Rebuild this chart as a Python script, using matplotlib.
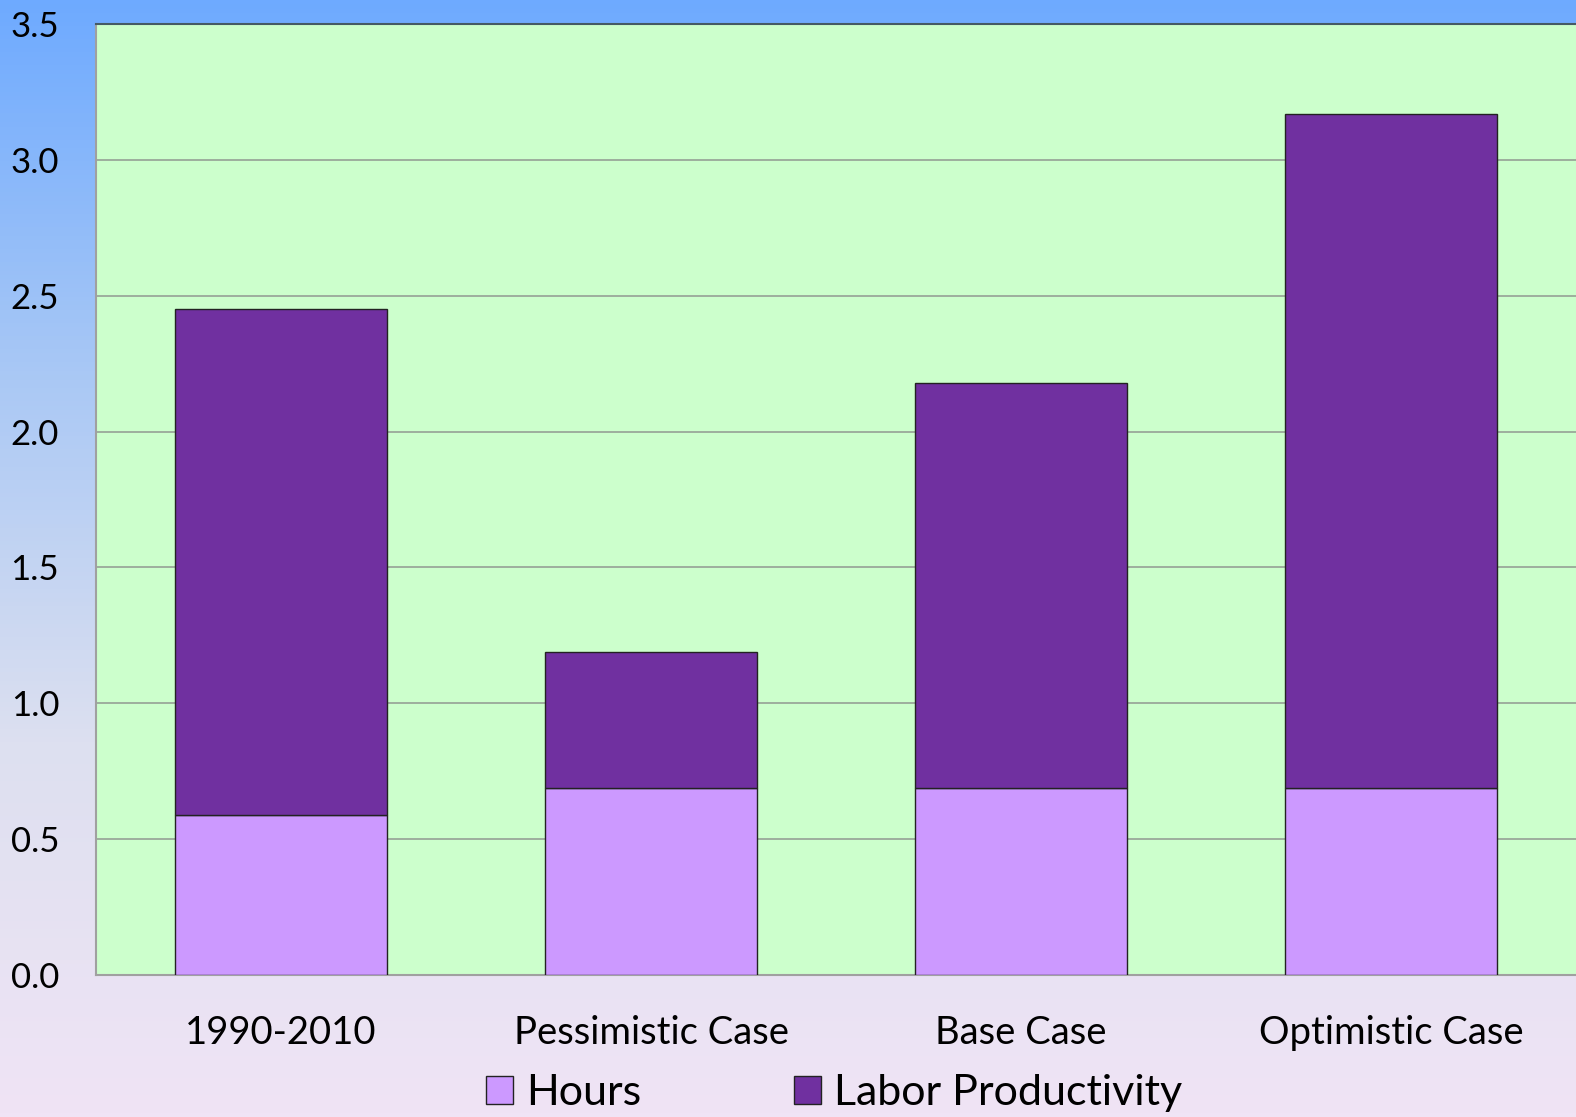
import numpy as np
import matplotlib.pyplot as plt
from matplotlib.colors import LinearSegmentedColormap

categories = ['1990-2010', 'Pessimistic Case', 'Base Case', 'Optimistic Case']
hours = [0.59, 0.69, 0.69, 0.69]
productivity = [1.86, 0.50, 1.49, 2.48]
yticks = [0.0, 0.5, 1.0, 1.5, 2.0, 2.5, 3.0, 3.5]

plt.rcParams['font.family'] = ['Lato', 'DejaVu Sans']

fig = plt.figure(figsize=(15.76, 11.17), dpi=100)

# gradient background for the whole figure
bg = fig.add_axes([0, 0, 1, 1], zorder=-10)
cmap = LinearSegmentedColormap.from_list('bg', ['#6eaaff', '#a9c8f5', '#dde0f0', '#f0e4f5'])
grad = np.linspace(0, 1, 256).reshape(-1, 1)
bg.imshow(grad, aspect='auto', cmap=cmap, extent=[0, 1, 0, 1], origin='upper')
bg.axis('off')

ax = fig.add_axes([96 / 1576, 1 - 975 / 1117, 1 - 96 / 1576, (975 - 24) / 1117])
ax.set_facecolor('#ccffcc')

x = np.arange(len(categories))
w = 0.575
ax.bar(x, hours, w, color='#cc99ff', edgecolor='#222222', linewidth=1, label='Hours', zorder=3)
ax.bar(x, productivity, w, bottom=hours, color='#7030a0', edgecolor='#222222', linewidth=1,
       label='Labor Productivity', zorder=3)

ax.set_xlim(-0.5, 3.5)
ax.set_ylim(0, 3.5)
ax.set_yticks(yticks)
ax.set_yticklabels([f'{v:.1f}' for v in yticks], fontsize=25)
ax.set_xticks(x)
ax.set_xticklabels(categories, fontsize=27.5)
ax.tick_params(axis='both', length=0)
ax.tick_params(axis='y', pad=26.5)
ax.tick_params(axis='x', pad=29)
ax.yaxis.grid(True, color='#9aa89a', linewidth=1.3, zorder=0)
ax.set_axisbelow(True)

ax.spines['right'].set_visible(False)
ax.spines['top'].set_color('#455a64')
ax.spines['top'].set_linewidth(1.5)
ax.spines['left'].set_color('#a0a0a0')
ax.spines['bottom'].set_color('#a0a0a0')
ax.spines['left'].set_linewidth(1.5)
ax.spines['bottom'].set_linewidth(1.5)

fig.legend(loc='lower left', bbox_to_anchor=(447 / 1576, -0.03), ncol=2, frameon=False,
           fontsize=31, handlelength=0.63, handleheight=0.63, handletextpad=0.3,
           columnspacing=3.55)

fig.savefig('out.png', dpi=100)
